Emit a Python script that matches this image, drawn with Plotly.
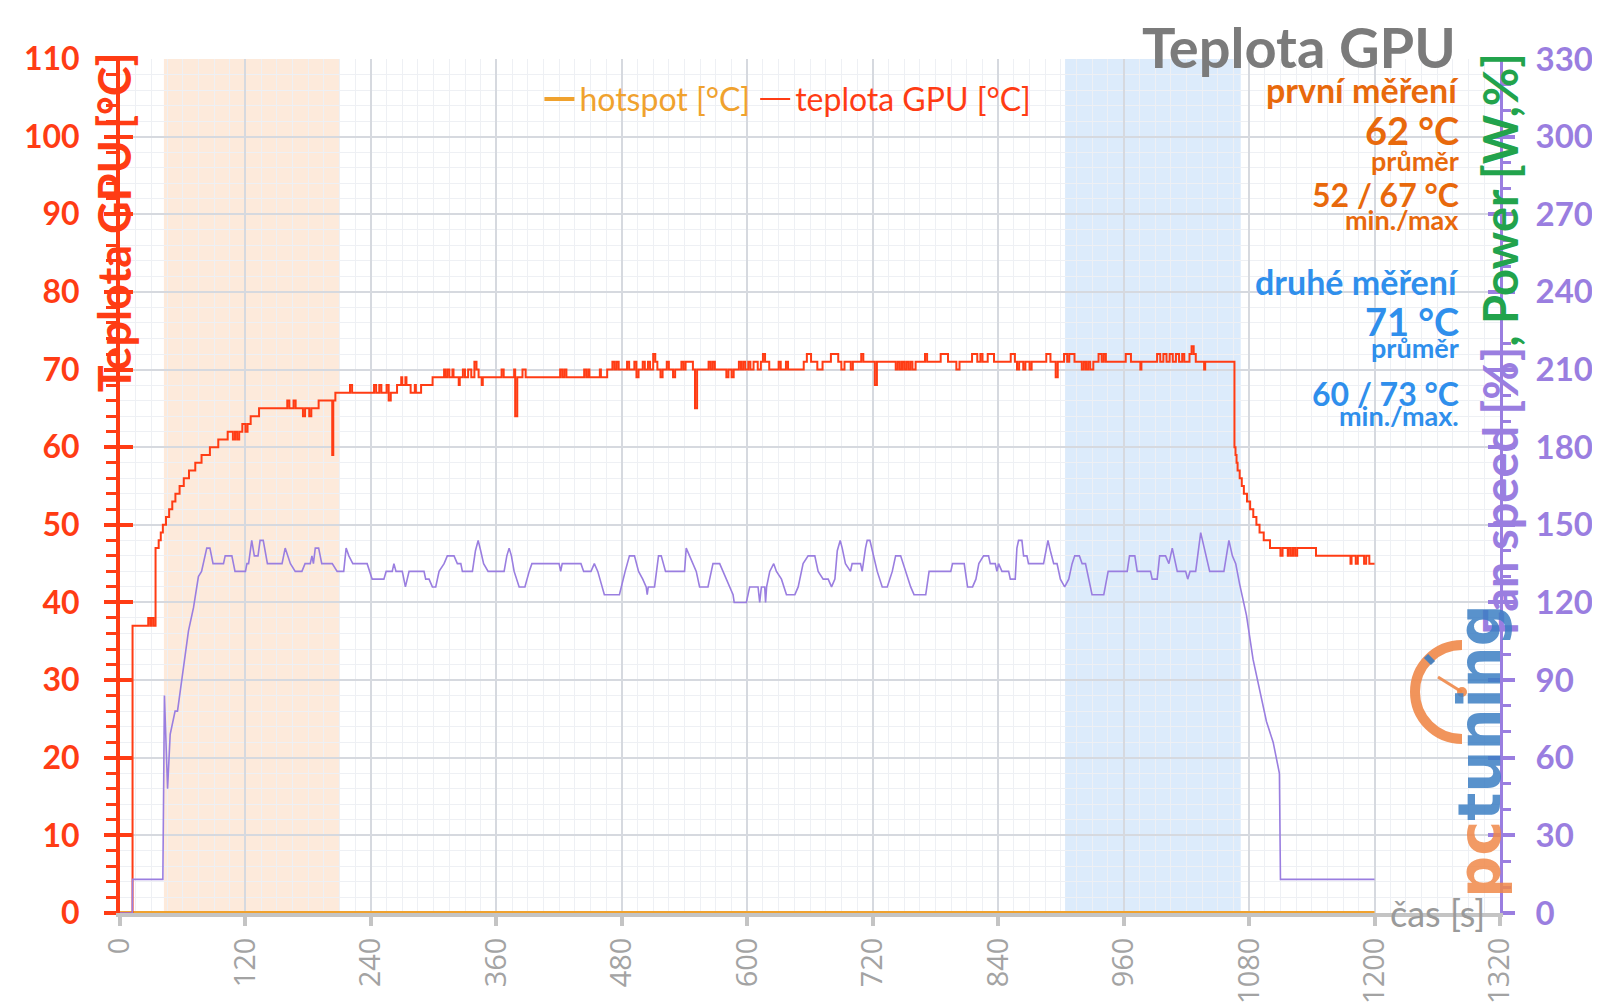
import plotly.graph_objects as go

# --- data --------------------------------------------------------------
# GPU temperature [°C] (time [s], value) - step data
gpu_temp = [
    (0, 0), (12, 37), (27, 38), (29, 37), (30, 38), (32, 37), (34, 47), (37, 48), (39, 49),
    (41, 50), (44, 51), (47, 52), (50, 53), (53, 54), (57, 55), (61, 56), (66, 57), (72, 58),
    (78, 59), (86, 60), (94, 61), (103, 62), (108, 61), (110, 62), (112, 61), (114, 62),
    (117, 63), (120, 62), (122, 63), (125, 64), (133, 65), (160, 66), (162, 65), (166, 66),
    (168, 65), (175, 64), (177, 65), (181, 64), (183, 65), (190, 66), (203, 59), (204, 66),
    (206, 67), (220, 68), (222, 67), (243, 68), (245, 67), (248, 68), (250, 67), (255, 68),
    (257, 66), (259, 67), (265, 68), (269, 69), (270, 68), (273, 69), (274, 68), (278, 67),
    (282, 68), (283, 67), (288, 68), (299, 69), (310, 70), (311, 69), (313, 70), (315, 69),
    (318, 70), (319, 69), (324, 68), (325, 69), (328, 70), (330, 69), (333, 70), (336, 69),
    (339, 71), (341, 70), (343, 69), (346, 68), (347, 69), (365, 70), (367, 69), (377, 70),
    (378, 64), (380, 69), (385, 70), (388, 69), (421, 70), (423, 69), (425, 70), (427, 69),
    (444, 70), (446, 69), (448, 70), (449, 69), (459, 70), (460, 69), (466, 70), (471, 71),
    (473, 70), (475, 71), (477, 70), (485, 71), (487, 70), (492, 71), (494, 69), (496, 70),
    (500, 71), (502, 70), (505, 71), (507, 70), (510, 72), (512, 71), (514, 70), (517, 69),
    (519, 70), (523, 71), (525, 70), (529, 69), (531, 70), (537, 71), (539, 70), (541, 71),
    (548, 70), (550, 65), (552, 70), (563, 71), (565, 70), (567, 71), (569, 70), (580, 69),
    (582, 70), (585, 69), (587, 70), (592, 71), (594, 70), (596, 71), (598, 70), (601, 71),
    (603, 70), (606, 71), (610, 70), (613, 71), (615, 72), (617, 71), (621, 70), (630, 71),
    (632, 70), (637, 71), (639, 70), (654, 71), (657, 72), (661, 71), (667, 70), (672, 71),
    (680, 72), (687, 71), (690, 70), (693, 71), (699, 70), (701, 71), (709, 72), (711, 71),
    (722, 68), (724, 71), (742, 70), (744, 71), (746, 70), (748, 71), (750, 70), (752, 71),
    (754, 70), (756, 71), (758, 70), (761, 71), (770, 72), (772, 71), (785, 72), (792, 71),
    (800, 70), (803, 71), (815, 72), (820, 71), (823, 72), (825, 71), (830, 72), (836, 71),
    (852, 72), (856, 71), (858, 70), (860, 71), (864, 70), (866, 71), (870, 70), (872, 71),
    (886, 72), (890, 71), (895, 69), (897, 71), (903, 72), (906, 71), (908, 72), (913, 71),
    (920, 70), (922, 71), (924, 70), (926, 71), (928, 70), (931, 71), (936, 72), (939, 71),
    (941, 72), (943, 71), (962, 72), (967, 71), (976, 70), (977, 71), (992, 72), (995, 71),
    (998, 72), (1001, 71), (1004, 72), (1007, 71), (1010, 72), (1013, 71), (1016, 72),
    (1018, 71), (1023, 72), (1025, 73), (1027, 72), (1029, 71), (1037, 70), (1038, 71),
    (1066, 60), (1067, 59), (1068, 58), (1069, 57), (1071, 56), (1073, 55), (1075, 54),
    (1078, 53), (1081, 52), (1084, 51), (1087, 50), (1090, 49), (1094, 48), (1100, 47),
    (1110, 46), (1112, 47), (1117, 46), (1118, 47), (1120, 46), (1122, 47), (1124, 46),
    (1126, 47), (1144, 46), (1177, 45), (1178, 46), (1182, 45), (1184, 46), (1190, 45),
    (1192, 46), (1195, 45), (1200, 45),
]

# fan speed, right axis units
fan_speed = [
    (0, 0), (11.8, 0), (12, 13), (41, 13), (42.5, 84), (45.5, 48), (48, 69), (52.7, 78),
    (55, 78), (60.7, 96), (65.5, 109), (70.3, 118), (75, 130), (78, 132), (81, 138), (83, 141),
    (86, 141), (89, 135), (99, 135), (100.6, 138), (107, 138), (110, 132), (120, 132),
    (121.4, 135), (123, 135), (124.6, 141), (126, 144), (128.5, 138), (132, 138), (134, 144),
    (137, 144), (141, 135), (155, 135), (158, 141), (163, 135), (167.6, 132), (174, 132),
    (177, 135), (182, 135), (183.6, 138), (185, 135), (186.8, 141), (190, 141), (193, 135),
    (203, 135), (207.7, 132), (214, 132), (216.3, 141), (218.9, 138), (222.7, 135),
    (236.4, 135), (241.2, 129), (252.4, 129), (254.6, 132), (260.4, 132), (262, 135),
    (264, 132), (270, 132), (273, 126), (276.5, 132), (290.8, 132), (292.4, 129),
    (295.6, 129), (298.8, 126), (302, 126), (305.2, 132), (310, 135), (313.1, 138),
    (319.5, 138), (322.7, 135), (326, 135), (327.5, 132), (337.1, 132), (340, 140),
    (342.6, 144), (345, 140), (347.8, 135), (352.1, 132), (367.4, 132), (370, 138),
    (372.2, 141), (374.4, 138), (377, 132), (381.8, 126), (387.3, 126), (391.4, 132),
    (394, 135), (420, 135), (421.5, 132), (423, 135), (440.9, 135), (443.5, 132),
    (450.5, 132), (453.7, 135), (457, 132), (463.3, 123), (477.7, 123), (483.2, 132),
    (487.3, 138), (492.1, 138), (496, 132), (500, 129), (503.3, 126), (504.3, 123),
    (505.3, 126), (511.3, 126), (513.8, 135), (515.1, 138), (517.7, 138), (521.8, 132),
    (540, 132), (541.6, 141), (544.8, 138), (548, 135), (551.2, 132), (554.4, 126),
    (562.4, 126), (565.6, 132), (567.2, 135), (573.6, 135), (576.8, 132), (580, 129),
    (583.2, 126), (586.4, 123), (587.5, 120), (599.1, 120), (602.3, 126), (610.3, 126),
    (611.9, 120), (613.5, 126), (616.7, 126), (617.5, 120), (618.5, 126), (621.5, 132),
    (625.3, 135), (627.9, 132), (632.7, 129), (637.5, 123), (645.5, 123), (648.7, 126),
    (653.4, 135), (658.2, 138), (664.6, 138), (667.8, 132), (672.6, 129), (677.4, 129),
    (680.6, 126), (683.8, 129), (686.1, 140), (688.9, 144), (690.8, 141), (693.9, 135),
    (698.7, 132), (700.3, 135), (708.3, 135), (709.9, 132), (713.1, 141), (714.7, 144),
    (717.3, 144), (721.1, 138), (724.3, 132), (729.1, 126), (733.9, 126), (738.7, 132),
    (741.9, 138), (746.7, 138), (751.5, 132), (756.3, 126), (759.5, 123), (770.7, 123),
    (773.9, 132), (794.7, 132), (796.3, 135), (807.5, 135), (810.7, 126), (815.5, 126),
    (818.7, 129), (821.5, 135), (826, 138), (830.8, 138), (832.4, 135), (837.2, 135),
    (838.8, 132), (840.4, 135), (843.6, 132), (850, 132), (851.6, 129), (856.3, 129),
    (857.9, 141), (859.5, 144), (862.7, 144), (864.3, 138), (867.5, 138), (869, 135),
    (883.4, 135), (885.6, 140), (887.6, 144), (889.9, 140), (893.1, 135), (896.3, 135),
    (899.5, 129), (903.6, 126), (907.5, 129), (910.7, 135), (913.2, 138), (917.7, 138),
    (920.3, 135), (923.5, 135), (926.7, 129), (929.8, 123), (941, 123), (945.2, 132),
    (963.4, 132), (965.6, 138), (970.7, 138), (973, 132), (985.7, 132), (987.3, 129),
    (992.1, 129), (994.4, 138), (1000.1, 138), (1003.3, 135), (1006.5, 141), (1008.1, 138),
    (1011.3, 132), (1019.3, 132), (1021.3, 129), (1023.5, 132), (1028.9, 132), (1033.7, 147),
    (1038.5, 138), (1042.3, 132), (1055.9, 132), (1060.7, 144), (1064, 138), (1067.2, 135),
    (1071, 127), (1077.5, 115), (1083.8, 98), (1090, 86), (1096.6, 74), (1103, 66),
    (1107.7, 57), (1109, 54), (1110, 13), (1200, 13),
]

hotspot_t = [0, 1200]
hotspot_temp = [0, 0]

first_span = [42, 210]     # "první měření"
second_span = [904, 1072]  # "druhé měření"

first_stats = ["první měření", "62 °C", "průměr", "52 / 67 °C", "min./max"]
first_stats_y = [106.1, 100.9, 96.9, 92.5, 89.3]
second_stats = ["druhé měření", "71 °C", "průměr", "60 / 73 °C", "min./max."]
second_stats_y = [81.4, 76.2, 72.8, 66.9, 64.1]
stats_size = [34, 38, 27, 32, 27]

# --- styling ------------------------------------------------------------
RED = "#ff3c14"
PURPLE = "#9a7ee0"
ORANGE = "#f0a22e"
GREEN = "#22a34c"
C_FIRST = "#e8690c"
C_SECOND = "#2f8fec"
GRID = "#d6d9df"
GRID_MINOR = "#eef0f4"
FONT = "Lato"

# plot area in page pixels (used for the logo drawing only)
PX_L, PX_R, PX_T, PX_B = 120, 1500, 59, 913


def to_paper(px, py):
    return (px - PX_L) / (PX_R - PX_L), (PX_B - py) / (PX_B - PX_T)


gpu_t, gpu_v = zip(*gpu_temp)
fan_t, fan_v = zip(*fan_speed)

fig = go.Figure()

fig.add_trace(go.Scatter(
    x=hotspot_t, y=hotspot_temp, mode="lines",
    line=dict(color=ORANGE, width=4),
    name=f'<span style="color:{ORANGE}">hotspot [°C]</span>'
))
fig.add_trace(go.Scatter(
    x=gpu_t, y=gpu_v, mode="lines",
    line=dict(color=RED, width=2, shape="hv"),
    name=f'<span style="color:{RED}">teplota GPU [°C]</span>'
))
fig.add_trace(go.Scatter(
    x=fan_t, y=fan_v, mode="lines", yaxis="y2",
    line=dict(color=PURPLE, width=1.6),
    showlegend=False, name="Fan speed [%]"
))

# highlighted measurement windows
fig.add_vrect(x0=first_span[0], x1=first_span[1], fillcolor="#fdeadb",
              line_width=0, layer="below")
fig.add_vrect(x0=second_span[0], x1=second_span[1], fillcolor="#dcebfb",
              line_width=0, layer="below")

# page body adds an 8px margin, so the figure is a bit smaller than the window
fig.update_layout(
    width=1584, height=1000,
    margin=dict(l=112, r=92, t=51, b=95, autoexpand=False),
    plot_bgcolor="white", paper_bgcolor="white",
    font=dict(family=FONT),
    showlegend=True,
    legend=dict(orientation="h", x=0.484, xanchor="center", y=0.953, yanchor="middle",
                font=dict(size=32, family=FONT), itemwidth=30,
                bgcolor="rgba(0,0,0,0)", traceorder="normal"),
    xaxis=dict(
        range=[0, 1320], tick0=0, dtick=120, tickangle=-90, automargin=False,
        tickfont=dict(family="Open Sans", size=29, color="#a3a3a3"),
        showgrid=True, gridcolor=GRID, gridwidth=2,
        minor=dict(dtick=15, showgrid=True, gridcolor=GRID_MINOR, gridwidth=1),
        showline=True, linecolor="#c4c4c4", linewidth=4,
        ticks="outside", ticklen=9, tickwidth=4, tickcolor="#c4c4c4",
        zeroline=False,
    ),
    yaxis=dict(
        range=[0, 110], tick0=0, dtick=10, automargin=False,
        tickfont=dict(family=FONT, size=32, color=RED, weight=700),
        showgrid=True, gridcolor=GRID, gridwidth=2,
        minor=dict(dtick=2, showgrid=True, gridcolor=GRID_MINOR, gridwidth=1,
                   ticks="outside", ticklen=10, tickwidth=3, tickcolor=RED),
        showline=True, linecolor=RED, linewidth=4,
        ticks="outside", ticklen=12, tickwidth=4, tickcolor=RED,
        ticklabelstandoff=18, zeroline=False,
    ),
    yaxis3=dict(
        overlaying="y", side="left", range=[0, 110], tick0=0, dtick=10, automargin=False,
        showticklabels=False, showgrid=False, zeroline=False,
        ticks="inside", ticklen=13, tickwidth=4, tickcolor=RED,
    ),
    yaxis2=dict(
        overlaying="y", side="right", range=[0, 330], tick0=0, dtick=30, automargin=False,
        tickfont=dict(family=FONT, size=33, color=PURPLE, weight=700),
        showgrid=False, zeroline=False,
        showline=True, linecolor=PURPLE, linewidth=3,
        ticks="outside", ticklen=12, tickwidth=4, tickcolor=PURPLE,
        minor=dict(dtick=10, ticks="outside", ticklen=8, tickwidth=3, tickcolor=PURPLE),
        ticklabelstandoff=14,
    ),
    yaxis4=dict(
        overlaying="y", side="right", range=[0, 330], tick0=0, dtick=30, automargin=False,
        showticklabels=False, showgrid=False, zeroline=False,
        ticks="inside", ticklen=12, tickwidth=4, tickcolor=PURPLE,
    ),
)

# invisible traces so the overlay tick axes get drawn
fig.add_trace(go.Scatter(x=[None], y=[None], yaxis="y3", showlegend=False, hoverinfo="skip"))
fig.add_trace(go.Scatter(x=[None], y=[None], yaxis="y4", showlegend=False, hoverinfo="skip"))

# title and axis titles (paper coordinates, they sit outside the data range)
fig.add_annotation(x=0.9696, y=1.0152, xref="paper", yref="paper", text="Teplota GPU",
                   showarrow=False, xanchor="right", yanchor="middle",
                   font=dict(family=FONT, size=56, color="#7b7b7b", weight=700))
fig.add_annotation(x=-0.0043, y=0.809, xref="paper", yref="paper", text="Teplota GPU [°C]",
                   textangle=-90, showarrow=False, xanchor="center", yanchor="middle",
                   font=dict(family=FONT, size=45, color=RED, weight=700))
fig.add_annotation(
    x=1.0, y=0.666, xref="paper", yref="paper", textangle=-90, showarrow=False,
    xanchor="center", yanchor="middle",
    text=f'<span style="color:{PURPLE}">Fan speed [%]</span>'
         f'<span style="color:{GREEN}">, Power [W,%]</span>',
    font=dict(family=FONT, size=47, weight=700))
fig.add_annotation(x=0.955, y=0.0, xref="paper", yref="paper", text="čas [s]",
                   showarrow=False, xanchor="center", yanchor="middle",
                   font=dict(family=FONT, size=36, color="#9a9a9a"))

# watermark logo: gauge arc + needle + text
cx, cy, r = 1462, 692, 47
k = 0.5523
pts = [(cx, cy - r), (cx - k * r, cy - r), (cx - r, cy - k * r), (cx - r, cy),
       (cx - r, cy + k * r), (cx - k * r, cy + r), (cx, cy + r)]
pp = [to_paper(*p) for p in pts]
arc = (f"M {pp[0][0]},{pp[0][1]} C {pp[1][0]},{pp[1][1]} {pp[2][0]},{pp[2][1]} "
       f"{pp[3][0]},{pp[3][1]} C {pp[4][0]},{pp[4][1]} {pp[5][0]},{pp[5][1]} "
       f"{pp[6][0]},{pp[6][1]}")
fig.add_shape(type="path", path=arc, xref="paper", yref="paper",
              line=dict(color="#f0894a", width=10), opacity=0.9, layer="above")
n0, n1 = to_paper(cx, cy), to_paper(cx - 24, cy - 15)
fig.add_shape(type="line", x0=n0[0], y0=n0[1], x1=n1[0], y1=n1[1], xref="paper",
              yref="paper", line=dict(color="#f0894a", width=3), opacity=0.9)
d0, d1 = to_paper(cx - 5, cy - 5), to_paper(cx + 5, cy + 5)
fig.add_shape(type="circle", x0=d0[0], y0=d0[1], x1=d1[0], y1=d1[1], xref="paper",
              yref="paper", fillcolor="#f0894a", line_width=0, opacity=0.9)
b0, b1 = to_paper(cx - 36, cy - 36), to_paper(cx - 29, cy - 29)
fig.add_shape(type="line", x0=b0[0], y0=b0[1], x1=b1[0], y1=b1[1], xref="paper",
              yref="paper", line=dict(color="#3d7fc4", width=6), opacity=0.9)
fig.add_annotation(
    x=0.985, y=0.19, xref="paper", yref="paper", textangle=-90, showarrow=False,
    xanchor="center", yanchor="middle", opacity=0.85,
    text='<span style="color:#f0894a">pc</span><span style="color:#3d7fc4">tuning</span>',
    font=dict(family="DejaVu Sans", size=59, weight=700))

# measurement summaries on the right
for texts, ys, color in ((first_stats, first_stats_y, C_FIRST),
                         (second_stats, second_stats_y, C_SECOND)):
    for txt, yy, sz in zip(texts, ys, stats_size):
        fig.add_annotation(x=1283, y=yy, xref="x", yref="y", text=txt,
                           showarrow=False, xanchor="right", yanchor="middle",
                           font=dict(family=FONT, size=sz, color=color, weight=700))

fig.write_html("out.html")
